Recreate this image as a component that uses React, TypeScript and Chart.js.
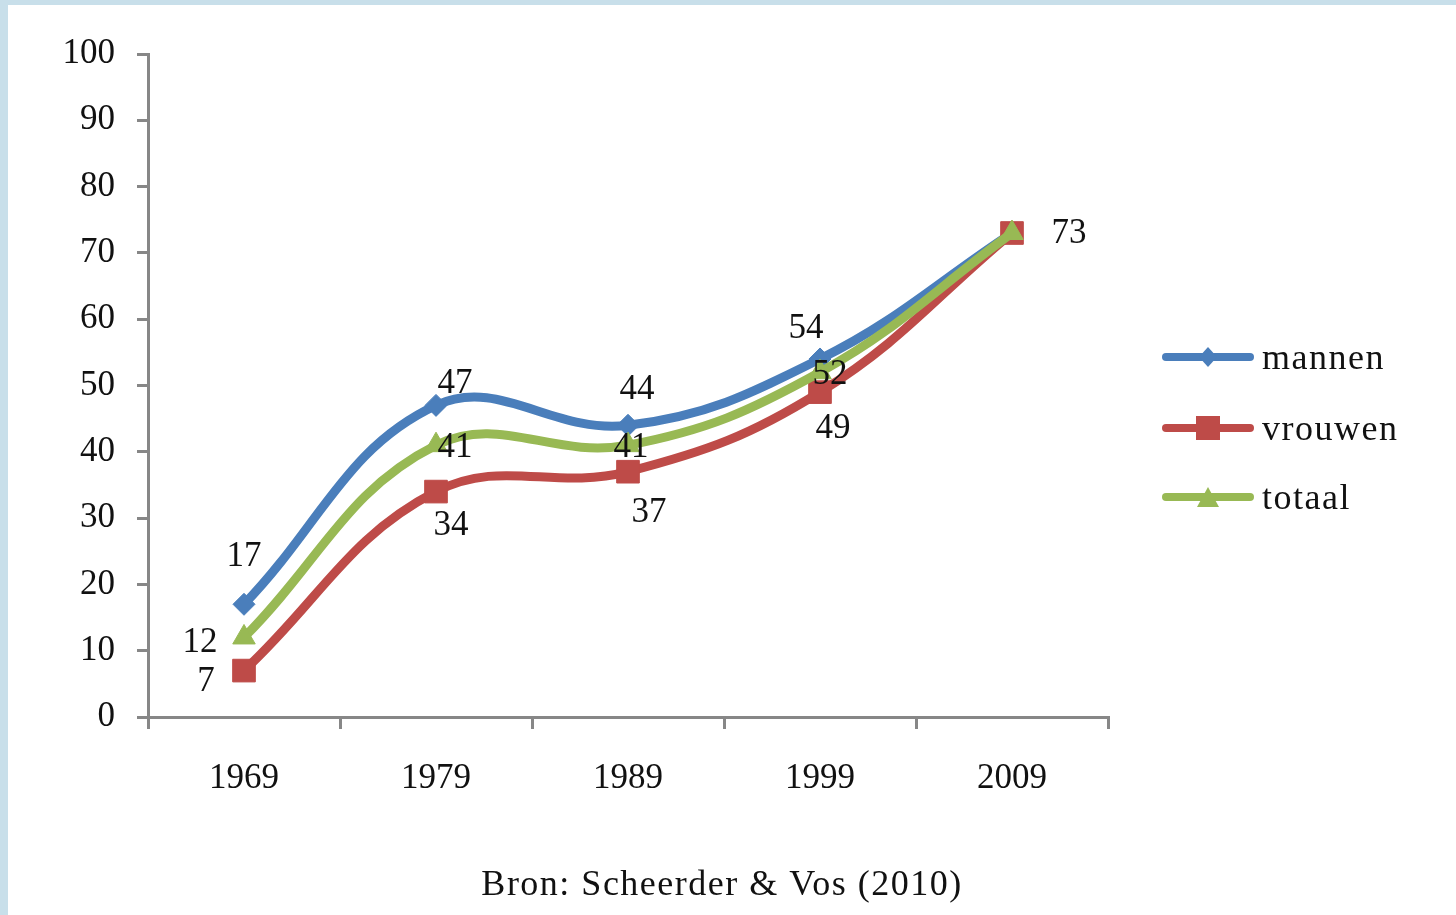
import React, { useEffect, useRef } from "react";
import { Chart, registerables } from "chart.js";

Chart.register(...registerables);

const years = ["1969", "1979", "1989", "1999", "2009"];
const mannen = [17, 47, 44, 54, 73];
const vrouwen = [7, 34, 37, 49, 73];
const totaal = [12, 41, 41, 52, 73];
const seriesNames = ["mannen", "vrouwen", "totaal"];
const yTicks = [0, 10, 20, 30, 40, 50, 60, 70, 80, 90, 100];
const sourceText = "Bron: Scheerder & Vos (2010)";

const COLORS = ["#4a7ebb", "#be4b48", "#98b954"];
const FONT = "'Liberation Serif', 'Times New Roman', serif";
const FS = 35;

// label offsets (px) from each point; null = no label
const labelOffsets: (number[] | null)[][] = [
  [[0, -47], [19, -22], [9, -35], [-14, -30], null],
  [[-38, 11], [15, 34], [21, 41], [13, 37], null],
  [[-44, 5], [19, 3], [3, 3], [10, 3], [57, 1]],
];

const labelPlugin = {
  id: "labels",
  afterDatasetsDraw(chart: any) {
    const ctx = chart.ctx;
    ctx.save();
    ctx.font = `${FS}px ${FONT}`;
    ctx.fillStyle = "#111";
    ctx.textAlign = "center";
    ctx.textBaseline = "middle";
    chart.data.datasets.forEach((ds: any, di: number) => {
      const meta = chart.getDatasetMeta(di);
      meta.data.forEach((el: any, i: number) => {
        const off = labelOffsets[di][i];
        if (!off) return;
        ctx.fillText(String(ds.data[i]), el.x + off[0], el.y + off[1]);
      });
    });
    ctx.restore();
  },
};

const legendPlugin = {
  id: "customLegend",
  afterDraw(chart: any) {
    const ctx = chart.ctx;
    ctx.save();
    const x0 = 1158, x1 = 1242, ys = [352, 423, 492];
    seriesNames.forEach((name, i) => {
      const y = ys[i];
      const c = COLORS[i];
      ctx.strokeStyle = c;
      ctx.lineWidth = 8;
      ctx.lineCap = "round";
      ctx.beginPath();
      ctx.moveTo(x0, y);
      ctx.lineTo(x1, y);
      ctx.stroke();
      const cx = (x0 + x1) / 2;
      ctx.fillStyle = c;
      ctx.beginPath();
      if (i === 0) {
        ctx.moveTo(cx, y - 10);
        ctx.lineTo(cx + 9, y);
        ctx.lineTo(cx, y + 10);
        ctx.lineTo(cx - 9, y);
        ctx.closePath();
      } else if (i === 1) {
        ctx.rect(cx - 12, y - 12, 24, 24);
      } else {
        ctx.moveTo(cx, y - 10);
        ctx.lineTo(cx + 11, y + 10);
        ctx.lineTo(cx - 11, y + 10);
        ctx.closePath();
      }
      ctx.fill();
      ctx.fillStyle = "#111";
      ctx.font = `36px ${FONT}`;
      (ctx as any).letterSpacing = "1.5px";
      ctx.textAlign = "left";
      ctx.textBaseline = "middle";
      ctx.fillText(name, 1254, y + 3);
      (ctx as any).letterSpacing = "0px";
    });
    ctx.font = `36px ${FONT}`;
    (ctx as any).letterSpacing = "1.5px";
    ctx.textAlign = "center";
    ctx.fillText(sourceText, 714, 881);
    (ctx as any).letterSpacing = "0px";
    ctx.restore();
  },
};

export default function App() {
  const ref = useRef<HTMLCanvasElement | null>(null);
  useEffect(() => {
    if (!ref.current) return;
    const mk = (label: string, data: number[], i: number, style: any, radius: number, order: number) => ({
      label,
      data,
      borderColor: COLORS[i],
      backgroundColor: COLORS[i],
      borderWidth: 9,
      tension: 0.4,
      pointStyle: style,
      pointRadius: radius,
      pointBorderWidth: 1,
      pointBackgroundColor: COLORS[i],
      pointBorderColor: COLORS[i],
      order,
    });
    const chart = new Chart(ref.current, {
      type: "line",
      data: {
        labels: years,
        datasets: [
          mk(seriesNames[0], mannen, 0, "rectRot", 11, 2),
          mk(seriesNames[1], vrouwen, 1, "rect", 16, 1),
          mk(seriesNames[2], totaal, 2, "triangle", 13, 0),
        ],
      },
      options: {
        animation: false,
        responsive: false,
        maintainAspectRatio: false,
        layout: { padding: { left: 0, right: 348, top: 49, bottom: 0 } },
        plugins: { legend: { display: false }, tooltip: { enabled: false } },
        scales: {
          x: {
            offset: true,
            grid: {
              display: true,
              drawOnChartArea: false,
              drawTicks: true,
              tickLength: 12,
              color: "#878787",
              lineWidth: 3,
              offset: true,
            },
            border: { color: "#878787", width: 3 },
            ticks: { font: { family: FONT, size: FS }, color: "#111", padding: 29 },
            afterFit: (s: any) => {
              s.height = 198;
            },
          },
          y: {
            min: 0,
            max: 100,
            afterBuildTicks: (s: any) => {
              s.ticks = yTicks.map((v) => ({ value: v }));
            },
            grid: {
              display: true,
              drawOnChartArea: false,
              drawTicks: true,
              tickLength: 11,
              color: "#878787",
              lineWidth: 3,
            },
            border: { color: "#878787", width: 3 },
            ticks: { font: { family: FONT, size: FS }, color: "#111", padding: 22 },
            afterFit: (s: any) => {
              s.width = 140;
            },
          },
        },
      },
      plugins: [labelPlugin, legendPlugin],
    });
    return () => chart.destroy();
  }, []);
  return (
    <div style={{ position: "fixed", left: 0, top: 0, width: 1456, height: 915, background: "#c8dfea" }}>
      <div style={{ position: "absolute", left: 8, top: 5, width: 1448, height: 910, background: "#fff" }}>
        <canvas ref={ref} width={1448} height={910} style={{ display: "block" }} />
      </div>
    </div>
  );
}
